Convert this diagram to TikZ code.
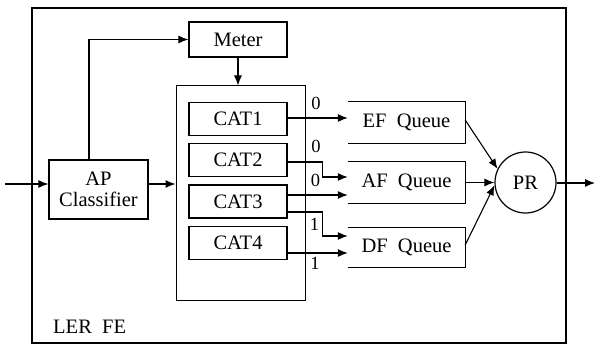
\documentclass[tikz,border=0pt]{standalone}
\usepackage{fontspec}
\setmainfont{Liberation Serif}
\usetikzlibrary{arrows.meta}
\begin{document}
\begin{tikzpicture}[x=1pt,y=-1pt,
  every node/.style={font=\fontsize{20.5}{22}\selectfont},
  box/.style={draw,line width=1.2pt,inner sep=0pt,minimum width=98pt,minimum height=33pt},
  qbox/.style={inner sep=0pt,minimum width=117pt,minimum height=41pt},
  qline/.style={line width=1.2pt},
  wire/.style={line width=1.1pt},
  arr/.style={line width=1.1pt,-{Latex[length=10pt,width=8pt]}},
  lab/.style={font=\fontsize{18.5}{19}\selectfont,inner sep=0pt}]
\useasboundingbox (0,0) rectangle (595,345);
% outer frame
\node[draw,line width=1.2pt,inner sep=0pt,minimum width=534pt,minimum height=335pt] (frame) at (299,175.5) {};
\node[anchor=west,inner sep=0pt] (ler) at (53,327) {LER\enspace FE};
% container of categories
\node[draw,line width=1pt,inner sep=0pt,minimum width=129pt,minimum height=214pt] (cont) at (240.5,193) {};
\node[box,minimum height=35pt] (meter) at (238,39.5) {Meter};
\node[box] (cat1) at (238,119) {CAT1};
\node[box] (cat2) at (238,160) {CAT2};
\node[box] (cat3) at (238,201.5) {CAT3};
\node[box] (cat4) at (238,243) {CAT4};
\node[box,minimum width=99pt,minimum height=59pt,align=center,font=\fontsize{20.5}{21}\selectfont] (ap) at (98.5,189.5) {AP\\Classifier};
% queues (open on the left)
\node[qbox] (ef) at (406.5,122.5) {EF\enspace Queue};
\node[qbox] (af) at (406.5,182.5) {AF\enspace Queue};
\node[qbox,minimum height=39pt] (df) at (406.5,247.5) {DF\enspace Queue};
\foreach \q in {ef,af,df}{
  \draw[qline] (\q.north west) -- (\q.north east) -- (\q.south east) -- (\q.south west);
}
\node[draw,circle,line width=1.2pt,inner sep=0pt,minimum size=61pt] (pr) at (525.5,182.5) {PR};
% input / output
\coordinate (in) at (5,184);
\coordinate (out) at (595,183);
\draw[arr] (in) -- (in -| ap.west);
\draw[arr] (ap.east |- in) -- (cont.west |- in);
\draw[arr] ([xshift=-9.5pt]ap.north) |- (meter.west);
\draw[arr] (meter.south) -- (meter.south |- cont.north);
\draw[wire,-{Latex[length=10pt,width=8pt]}] (pr.east |- out) -- (out);
% category outputs
\draw[arr] ([yshift=1pt]cat1.east) -- ([yshift=1pt]cat1.east -| ef.west);
\draw[arr] ([yshift=-2pt]cat2.east) -- ++(35,0) |- ([yshift=5.5pt]af.west);
\draw[arr] ([yshift=6.5pt]cat3.east) -- ([yshift=6.5pt]cat3.east -| af.west);
\draw[arr] ([yshift=-10.5pt]cat3.east) -- ++(35,0) |- ([yshift=11.5pt]df.west);
\draw[arr] ([yshift=-10pt]cat4.east) -- ([yshift=-10pt]cat4.east -| df.west);
\node[lab] (l1) at (316,103) {0};
\node[lab] (l2) at (316,146.5) {0};
\node[lab] (l3) at (315.5,180) {0};
\node[lab] (l4) at (314.5,224.5) {1};
\node[lab] (l5) at (315,263.5) {1};
% queues to PR
\draw[arr] ([yshift=2.5pt]ef.east) -- (pr.154);
\draw[arr] (af.east) -- (pr.west);
\draw[arr] ([yshift=2.5pt]df.east) -- (pr.185);
\end{tikzpicture}
\end{document}
